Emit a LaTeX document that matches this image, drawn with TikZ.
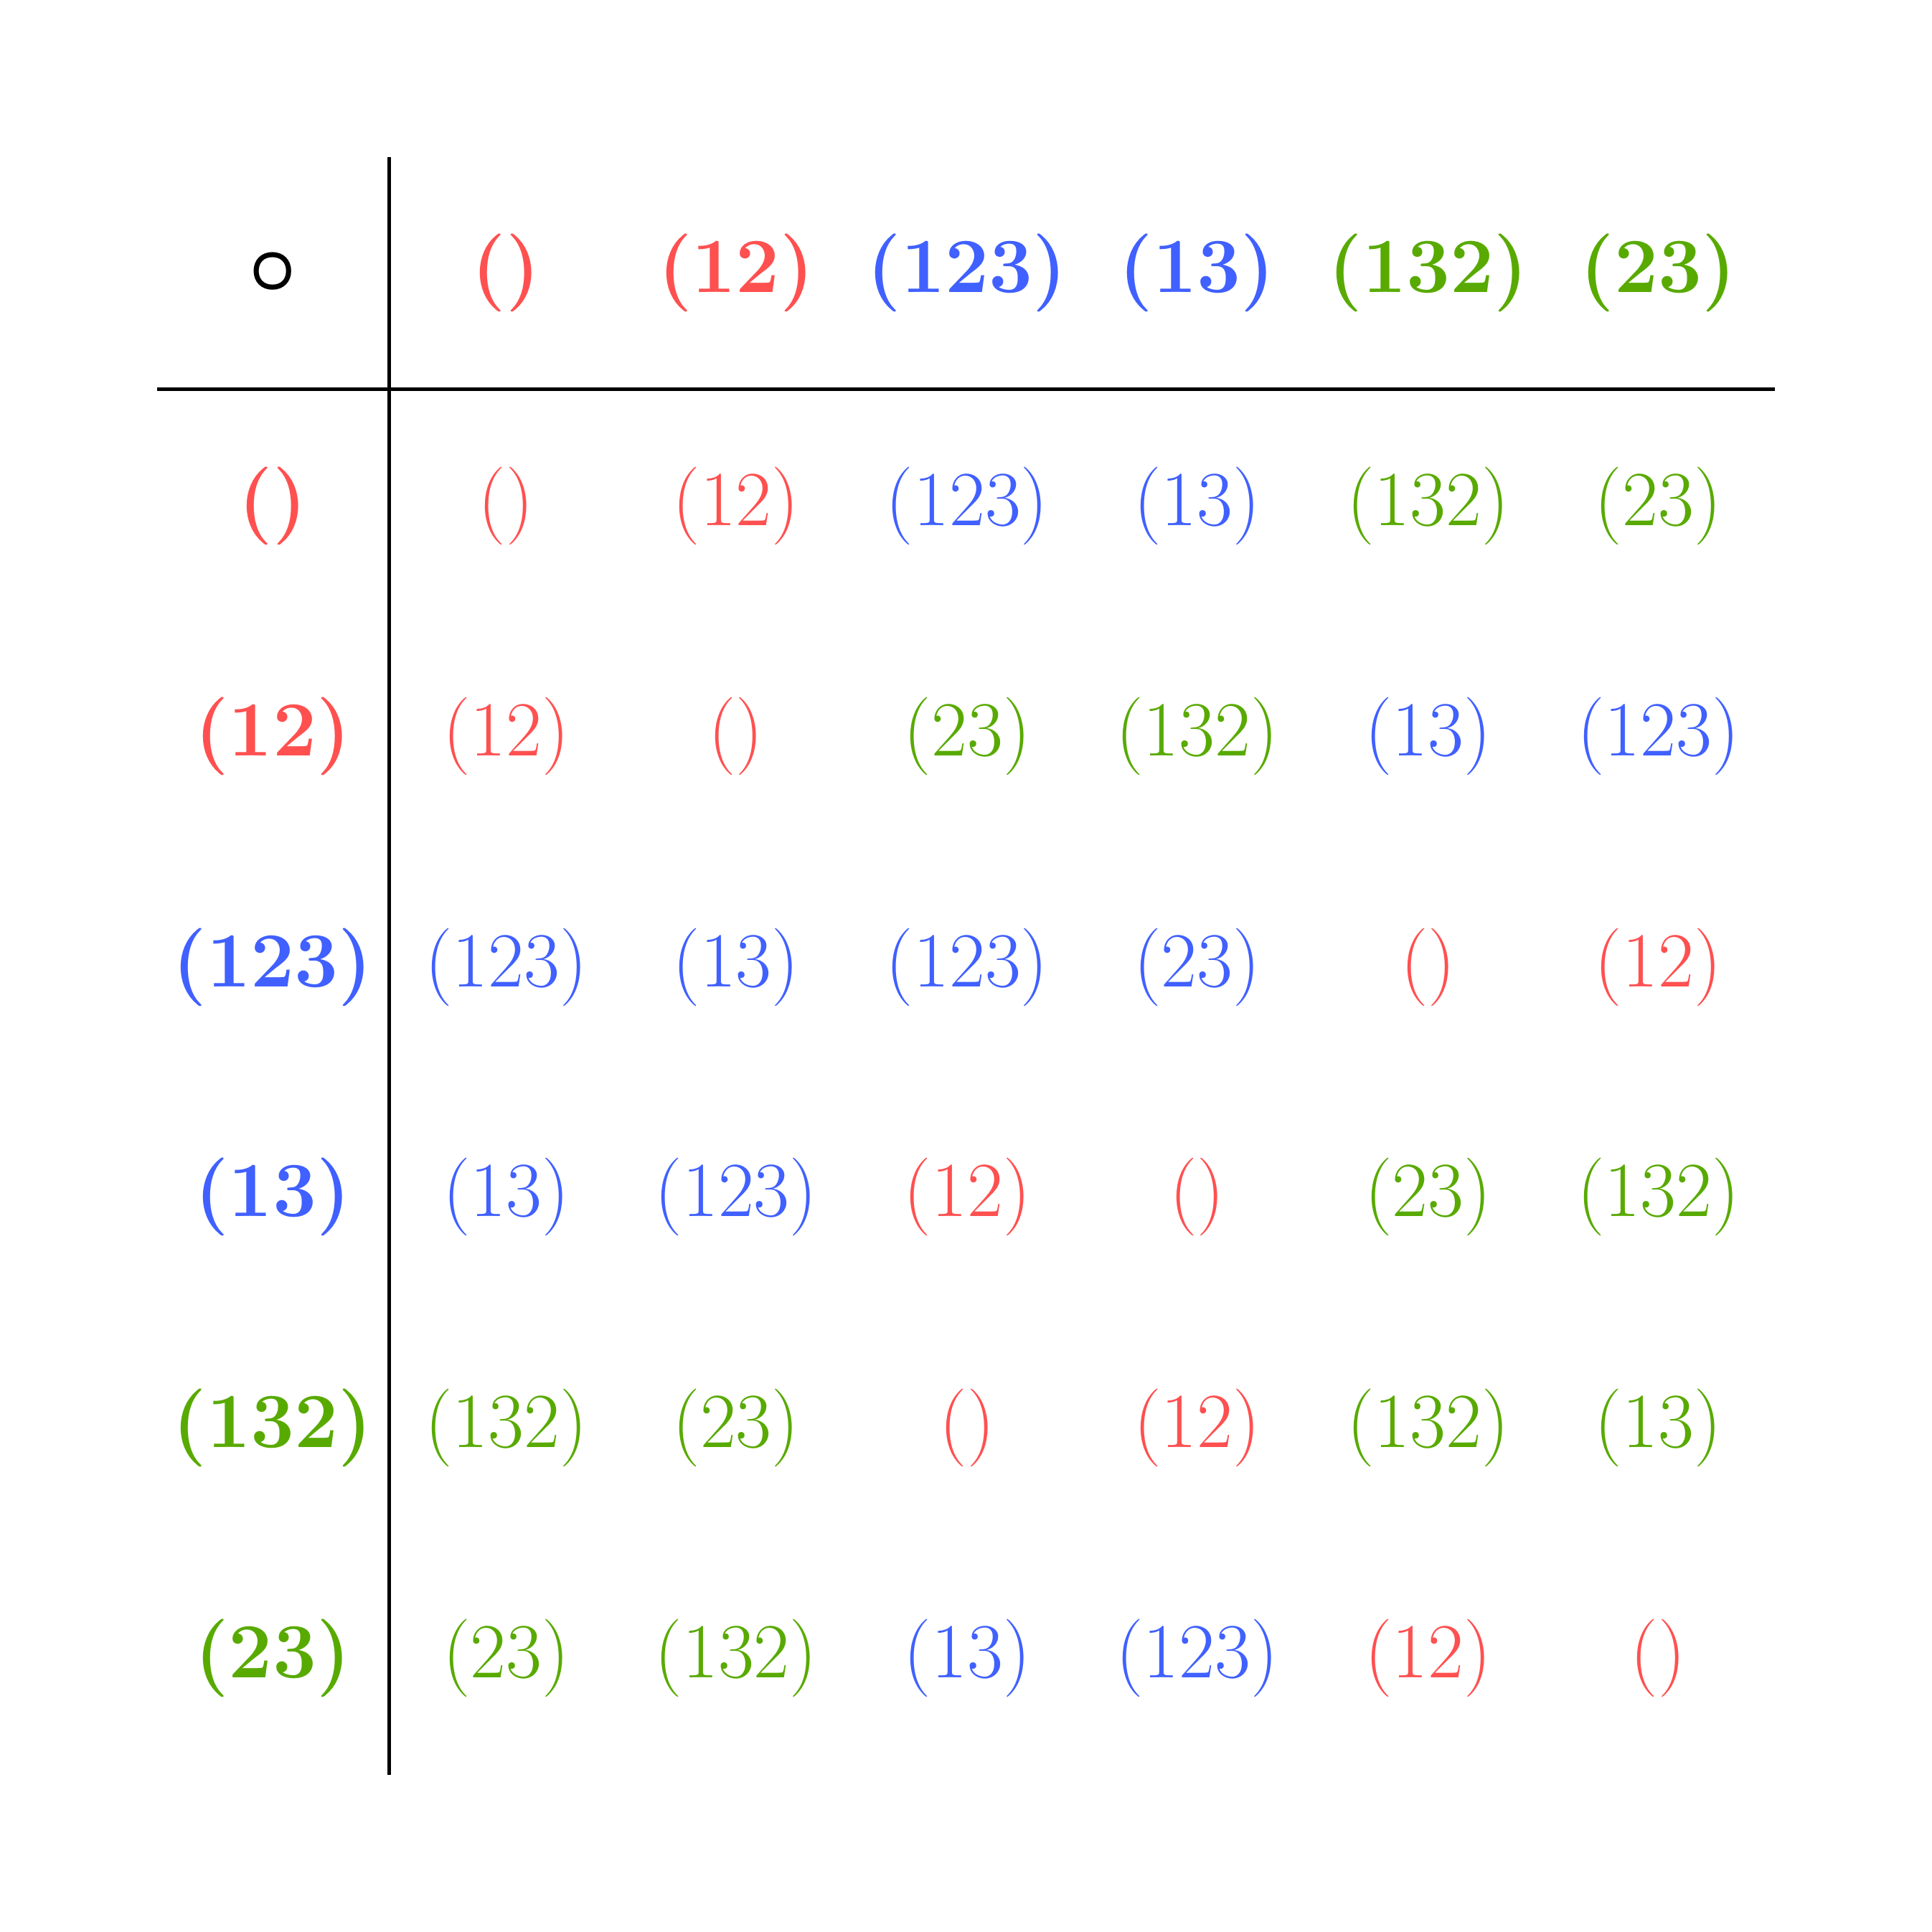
\documentclass[tikz,border=0pt]{standalone}
\usepackage{amsmath}
\usepackage{tikz}
\usetikzlibrary{positioning}
\definecolor{permred}{HTML}{FF5050}
\definecolor{permblue}{HTML}{4060FF}
\definecolor{permgreen}{HTML}{58AA00}
\tikzset{
    permhead/.style = {font=\fontsize{19.2}{23}\selectfont\bfseries},
    permtext/.style = {font=\fontsize{19.2}{23}\selectfont},
    tableline/.style = {line width=0.9pt}
}

\begin{document}
\begin{tikzpicture}[]
                \useasboundingbox (-2.36,2.36) rectangle (14.36,-14.36);

                % rules
                \draw[tableline] (1.01,1) -- (1.01,-13);
                \draw[tableline] (-1,-1.01) -- (13,-1.01);

                %% header
                \node[permhead] (hop) at (0,0) {$\boldsymbol{\circ}$};
                \node[permhead, permred] (h1) at (2.02,0) {()};
                \node[permhead, permred] (h2) at (4.01,0) {(12)};
                \node[permhead, permblue] (h3) at (6.01,0) {(123)};
                \node[permhead, permblue] (h4) at (8,0) {(13)};
                \node[permhead, permgreen] (h5) at (10,0) {(132)};
                \node[permhead, permgreen] (h6) at (11.99,0) {(23)};

                %% row labels
                \node[permhead, permred] (r1) at (0,-2.02) {()};
                \node[permhead, permred] (r2) at (0,-4.01) {(12)};
                \node[permhead, permblue] (r3) at (0,-6.01) {(123)};
                \node[permhead, permblue] (r4) at (0,-8) {(13)};
                \node[permhead, permgreen] (r5) at (0,-10) {(132)};
                \node[permhead, permgreen] (r6) at (0,-11.99) {(23)};

                % ()
                \node[permtext, permred] (c11) at (2.02,-2.02) {()};
                \node[permtext, permred] (c12) at (4.01,-2.02) {(12)};
                \node[permtext, permblue] (c13) at (6.01,-2.02) {(123)};
                \node[permtext, permblue] (c14) at (8,-2.02) {(13)};
                \node[permtext, permgreen] (c15) at (10,-2.02) {(132)};
                \node[permtext, permgreen] (c16) at (11.99,-2.02) {(23)};

                % (12)
                \node[permtext, permred] (c21) at (2.02,-4.01) {(12)};
                \node[permtext, permred] (c22) at (4.01,-4.01) {()};
                \node[permtext, permgreen] (c23) at (6.01,-4.01) {(23)};
                \node[permtext, permgreen] (c24) at (8,-4.01) {(132)};
                \node[permtext, permblue] (c25) at (10,-4.01) {(13)};
                \node[permtext, permblue] (c26) at (11.99,-4.01) {(123)};

                % (123)
                \node[permtext, permblue] (c31) at (2.02,-6.01) {(123)};
                \node[permtext, permblue] (c32) at (4.01,-6.01) {(13)};
                \node[permtext, permblue] (c33) at (6.01,-6.01) {(123)};
                \node[permtext, permblue] (c34) at (8,-6.01) {(23)};
                \node[permtext, permred] (c35) at (10,-6.01) {()};
                \node[permtext, permred] (c36) at (11.99,-6.01) {(12)};

                % (13)
                \node[permtext, permblue] (c41) at (2.02,-8) {(13)};
                \node[permtext, permblue] (c42) at (4.01,-8) {(123)};
                \node[permtext, permred] (c43) at (6.01,-8) {(12)};
                \node[permtext, permred] (c44) at (8,-8) {()};
                \node[permtext, permgreen] (c45) at (10,-8) {(23)};
                \node[permtext, permgreen] (c46) at (11.99,-8) {(132)};

                % (132)
                \node[permtext, permgreen] (c51) at (2.02,-10) {(132)};
                \node[permtext, permgreen] (c52) at (4.01,-10) {(23)};
                \node[permtext, permred] (c53) at (6.01,-10) {()};
                \node[permtext, permred] (c54) at (8,-10) {(12)};
                \node[permtext, permgreen] (c55) at (10,-10) {(132)};
                \node[permtext, permgreen] (c56) at (11.99,-10) {(13)};

                % (23)
                \node[permtext, permgreen] (c61) at (2.02,-11.99) {(23)};
                \node[permtext, permgreen] (c62) at (4.01,-11.99) {(132)};
                \node[permtext, permblue] (c63) at (6.01,-11.99) {(13)};
                \node[permtext, permblue] (c64) at (8,-11.99) {(123)};
                \node[permtext, permred] (c65) at (10,-11.99) {(12)};
                \node[permtext, permred] (c66) at (11.99,-11.99) {()};

            \end{tikzpicture}
\end{document}
